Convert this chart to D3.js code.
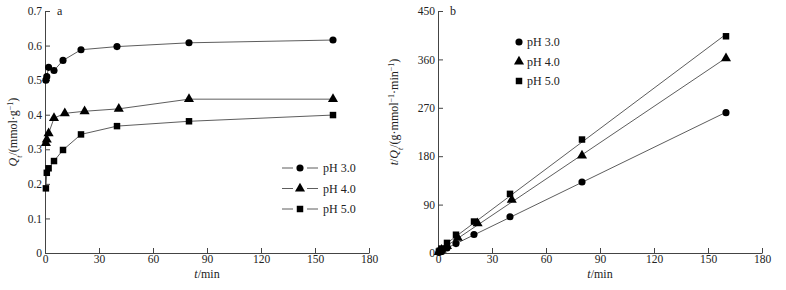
<!DOCTYPE html>
<html>
<head>
<meta charset="utf-8">
<script src="https://cdn.jsdelivr.net/npm/d3@7"></script>
<style>
    body { margin: 0; background: #fff; }
    text { font-family: "Liberation Serif", "Times New Roman", serif; fill: #222; }
    .axis path, .axis line { stroke: #444; stroke-width: 1; }
    .axis text { font-size: 11.5px; font-family: "Liberation Serif", serif; fill: #222; }
</style>
</head>
<body>
<div id="chart"></div>
<script>
// Data
const times = [0.5, 1, 2, 5, 10, 20, 40, 80, 160];
const timesPH4 = [0.5, 1, 2, 5, 11, 22, 41, 80, 160];

// panel a: Qt (mmol/g)
const qtPH3 = [0.500, 0.510, 0.537, 0.528, 0.557, 0.588, 0.597, 0.608, 0.616];
const qtPH4 = [0.318, 0.328, 0.346, 0.390, 0.404, 0.410, 0.417, 0.445, 0.445];
const qtPH5 = [0.187, 0.232, 0.245, 0.266, 0.298, 0.343, 0.367, 0.381, 0.399];

// panel b: t/Qt (g·min/mmol)
const tqPH3 = [1.0, 2.0, 3.7, 9.5, 17.5, 34.5, 67.5, 132, 261];
const tqPH4 = [1.6, 3.0, 5.8, 12.8, 28, 55, 99, 181, 362];
const tqPH5 = [2.7, 4.3, 8.2, 18.8, 34, 58.5, 110, 211, 403];

const seriesNames = ["pH 3.0", "pH 4.0", "pH 5.0"];
const xTicks = [0, 30, 60, 90, 120, 150, 180];
const yTicksA = [0, 0.1, 0.2, 0.3, 0.4, 0.5, 0.6, 0.7];
const yTicksB = [0, 90, 180, 270, 360, 450];

const symbols = [d3.symbolCircle, d3.symbolTriangle, d3.symbolSquare];
const symbolSizes = [40, 44, 42];

let svg = d3.select("#chart").append("svg")
    .attr("width", 786)
    .attr("height", 290);

class panel {
    constructor(left, letter, yDomain, yTicks, yFormat) {
        this.left = left;
        this.letter = letter;
        this.yDomain = yDomain;
        this.yTicks = yTicks;
        this.yFormat = yFormat;
        this.initVis();
    }

    initVis() {
        let vis = this;
        vis.width = 324;
        vis.top = 11;
        vis.height = 242;

        vis.g = svg.append("g")
            .attr("transform", `translate(${vis.left}, ${vis.top})`);

        vis.x = d3.scaleLinear().domain([0, 180]).range([0, vis.width]);
        vis.y = d3.scaleLinear().domain(vis.yDomain).range([vis.height, 0]);

        // ticks point inside the plot
        vis.g.append("g")
            .attr("class", "axis")
            .attr("transform", `translate(0, ${vis.height})`)
            .call(d3.axisBottom(vis.x).tickValues(xTicks).tickSize(-5).tickSizeOuter(0).tickPadding(2));

        vis.g.append("g")
            .attr("class", "axis")
            .call(d3.axisLeft(vis.y).tickValues(vis.yTicks).tickFormat(vis.yFormat)
                .tickSize(-5).tickSizeOuter(0).tickPadding(3));

        vis.g.append("text")
            .attr("x", 12)
            .attr("y", 4)
            .style("font-size", "12px")
            .text(vis.letter);

        let xl = vis.g.append("text")
            .attr("x", vis.width / 2)
            .attr("y", 267)
            .attr("text-anchor", "middle")
            .style("font-size", "12px");
        xl.append("tspan").style("font-style", "italic").text("t");
        xl.append("tspan").text("/min");
    }

    drawSeries(xs, ys, k, connect) {
        let vis = this;
        let pts = xs.map((d, i) => [d, ys[i]]);

        if (connect) {
            vis.g.append("path")
                .datum(pts)
                .attr("fill", "none")
                .attr("stroke", "#333")
                .attr("stroke-width", 0.8)
                .attr("d", d3.line().x(d => vis.x(d[0])).y(d => vis.y(d[1])));
        }

        vis.g.selectAll(".pt" + k)
            .data(pts)
            .enter()
            .append("path")
            .attr("class", "pt" + k)
            .attr("transform", d => `translate(${vis.x(d[0])}, ${vis.y(d[1])})`)
            .attr("d", d3.symbol().type(symbols[k]).size(symbolSizes[k]))
            .attr("fill", "#000");
    }

    // straight fit line through the points (least squares)
    drawFit(xs, ys) {
        let vis = this;
        let mx = d3.mean(xs), my = d3.mean(ys);
        let slope = d3.sum(xs, (d, i) => (d - mx) * (ys[i] - my)) / d3.sum(xs, d => (d - mx) * (d - mx));
        let icpt = my - slope * mx;
        let x0 = d3.min(xs), x1 = d3.max(xs);

        vis.g.append("line")
            .attr("x1", vis.x(x0)).attr("y1", vis.y(icpt + slope * x0))
            .attr("x2", vis.x(x1)).attr("y2", vis.y(icpt + slope * x1))
            .attr("stroke", "#333")
            .attr("stroke-width", 0.8);
    }
}

// panel a
let pa = new panel(45, "a", [0, 0.7], yTicksA, d => d === 0 ? "0" : d3.format(".1f")(d));
pa.drawSeries(times, qtPH3, 0, true);
pa.drawSeries(timesPH4, qtPH4, 1, true);
pa.drawSeries(times, qtPH5, 2, true);

let ya = svg.append("text")
    .attr("transform", "translate(17, 132) rotate(-90)")
    .attr("text-anchor", "middle")
    .style("font-size", "12px");
ya.append("tspan").style("font-style", "italic").text("Q");
ya.append("tspan").style("font-style", "italic").style("font-size", "8px").attr("baseline-shift", "sub").text("t");
ya.append("tspan").text("/(mmol·g");
ya.append("tspan").style("font-size", "8px").attr("baseline-shift", "super").text("−1");
ya.append("tspan").text(")");

// legend a
seriesNames.forEach(function(name, i) {
    let ly = 168 + i * 20.5;
    let lg = svg.append("g");
    lg.append("line").attr("x1", 282).attr("x2", 293).attr("y1", ly).attr("y2", ly)
        .attr("stroke", "#333").attr("stroke-width", 0.8);
    lg.append("line").attr("x1", 307).attr("x2", 318).attr("y1", ly).attr("y2", ly)
        .attr("stroke", "#333").attr("stroke-width", 0.8);
    lg.append("path")
        .attr("transform", `translate(300, ${ly})`)
        .attr("d", d3.symbol().type(symbols[i]).size(symbolSizes[i]))
        .attr("fill", "#000");
    lg.append("text").attr("x", 323).attr("y", ly + 4).style("font-size", "12px").text(name);
});

// panel b
let pb = new panel(438, "b", [0, 450], yTicksB, d3.format("d"));
pb.drawFit(times, tqPH3);
pb.drawFit(timesPH4, tqPH4);
pb.drawFit(times, tqPH5);
pb.drawSeries(times, tqPH3, 0, false);
pb.drawSeries(timesPH4, tqPH4, 1, false);
pb.drawSeries(times, tqPH5, 2, false);

let yb = svg.append("text")
    .attr("transform", "translate(398, 112) rotate(-90)")
    .attr("text-anchor", "middle")
    .style("font-size", "12px");
yb.append("tspan").style("font-style", "italic").text("t");
yb.append("tspan").text("/");
yb.append("tspan").style("font-style", "italic").text("Q");
yb.append("tspan").style("font-style", "italic").style("font-size", "8px").attr("baseline-shift", "sub").text("t");
yb.append("tspan").text("/(g·mmol");
yb.append("tspan").style("font-size", "8px").attr("baseline-shift", "super").text("−1");
yb.append("tspan").text("·min");
yb.append("tspan").style("font-size", "8px").attr("baseline-shift", "super").text("−1");
yb.append("tspan").text(")");

// legend b
seriesNames.forEach(function(name, i) {
    let ly = 42 + i * 19.5;
    svg.append("path")
        .attr("transform", `translate(519, ${ly})`)
        .attr("d", d3.symbol().type(symbols[i]).size(symbolSizes[i]))
        .attr("fill", "#000");
    svg.append("text").attr("x", 527).attr("y", ly + 4).style("font-size", "12px").text(name);
});
</script>
</body>
</html>
